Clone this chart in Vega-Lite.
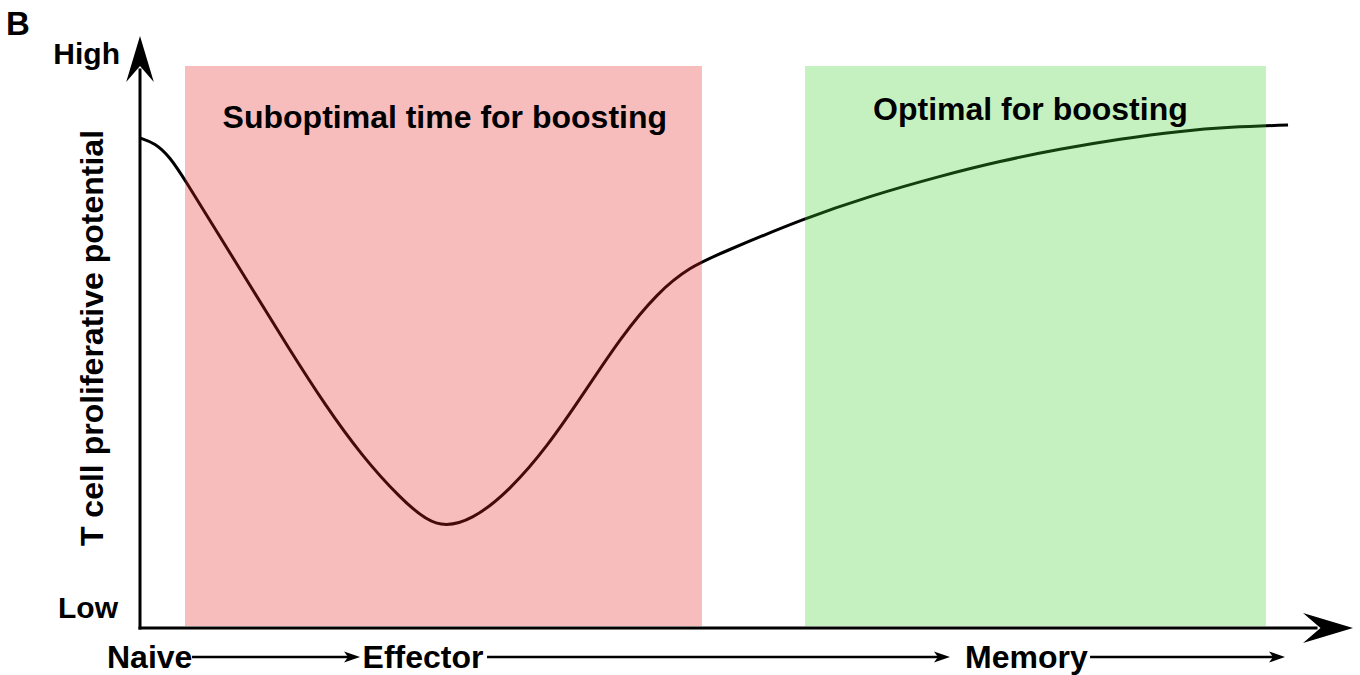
{
  "$schema": "https://vega.github.io/schema/vega-lite/v6.json",
  "width": 1200,
  "height": 600,
  "autosize": {"type": "none"},
  "padding": {"left": 140, "top": 28, "right": 20, "bottom": 47},
  "background": "white",
  "config": {"view": {"stroke": null}},
  "encoding": {
    "x": {"field": "x", "type": "quantitative", "axis": null, "scale": {"domain": [0, 100], "nice": false, "zero": false}},
    "y": {"field": "y", "type": "quantitative", "axis": null, "scale": {"domain": [0, 100], "nice": false, "zero": false}}
  },
  "layer": [
    {
      "data": {"values": [
        {"x": 0, "y": 81.67}, {"x": 1.25, "y": 80.83}, {"x": 2.5, "y": 78.5}, {"x": 3.75, "y": 74.67},
        {"x": 6.17, "y": 66.83}, {"x": 9.25, "y": 56.83}, {"x": 12.33, "y": 46.83}, {"x": 15.42, "y": 37.17},
        {"x": 18.5, "y": 28.67}, {"x": 21.58, "y": 21.83}, {"x": 24.67, "y": 16.33}, {"x": 27.75, "y": 18.0},
        {"x": 30.83, "y": 23}, {"x": 33.92, "y": 30.17}, {"x": 37, "y": 39.17}, {"x": 40.08, "y": 48.5},
        {"x": 43.17, "y": 56}, {"x": 45.83, "y": 60.17}, {"x": 48.42, "y": 62.5}, {"x": 55.42, "y": 68.33},
        {"x": 60.83, "y": 72}, {"x": 66.67, "y": 75.33}, {"x": 71.67, "y": 77.83}, {"x": 76.67, "y": 79.83},
        {"x": 81.67, "y": 81.5}, {"x": 86.67, "y": 82.83}, {"x": 90.83, "y": 83.5}, {"x": 95.67, "y": 83.83}
      ]},
      "mark": {"type": "line", "interpolate": "basis", "color": "black", "strokeWidth": 3, "clip": false}
    },
    {
      "data": {"values": [
        {"zone": "Suboptimal", "x": 3.75, "x2": 46.83, "y": 0.33, "y2": 93.67},
        {"zone": "Optimal", "x": 55.42, "x2": 93.83, "y": 0.33, "y2": 93.67}
      ]},
      "mark": {"type": "rect", "opacity": 0.3},
      "encoding": {
        "x2": {"field": "x2"},
        "y2": {"field": "y2"},
        "color": {"field": "zone", "type": "nominal", "legend": null, "scale": {"domain": ["Suboptimal", "Optimal"], "range": ["#e42626", "#3ed02d"]}}
      }
    },
    {
      "data": {"values": [
        {"x": 0, "x2": 0, "y": 0, "y2": 93},
        {"x": 0, "x2": 98, "y": 0, "y2": 0}
      ]},
      "mark": {"type": "rule", "color": "black", "strokeWidth": 3, "strokeCap": "square", "clip": false},
      "encoding": {"x2": {"field": "x2"}, "y2": {"field": "y2"}}
    },
    {
      "data": {"values": [{"x": 99, "y": 0}]},
      "mark": {"type": "point", "shape": "M1,0 L-1,-0.6 L-0.3,0 L-1,0.6 Z", "size": 2500, "filled": true, "color": "black", "opacity": 1, "angle": 0, "clip": false}
    },
    {
      "data": {"values": [{"x": 0, "y": 94.83}]},
      "mark": {"type": "point", "shape": "M1,0 L-1,-0.6 L-0.3,0 L-1,0.6 Z", "size": 2116, "filled": true, "color": "black", "opacity": 1, "angle": 270, "clip": false}
    },
    {
      "data": {"values": [
        {"x": 4.33, "x2": 17.67, "y": -4.83},
        {"x": 28.92, "x2": 66.83, "y": -4.83},
        {"x": 79.17, "x2": 94.75, "y": -4.83}
      ]},
      "mark": {"type": "rule", "color": "black", "strokeWidth": 2.5, "clip": false},
      "encoding": {"x2": {"field": "x2"}}
    },
    {
      "data": {"values": [
        {"x": 17.67, "y": -4.83},
        {"x": 66.83, "y": -4.83},
        {"x": 94.75, "y": -4.83}
      ]},
      "mark": {"type": "point", "shape": "M1,0 L-1,-0.7 L-0.5,0 L-1,0.7 Z", "size": 256, "filled": true, "color": "black", "opacity": 1, "clip": false}
    },
    {
      "data": {"values": [
        {"label": "Suboptimal time for boosting", "x": 25.4, "y": 83.33},
        {"label": "Optimal for boosting", "x": 74.2, "y": 84.67}
      ]},
      "mark": {"type": "text", "font": "Liberation Sans", "fontWeight": "bold", "fontSize": 32, "align": "center", "baseline": "alphabetic", "color": "black", "clip": false},
      "encoding": {"text": {"field": "label"}}
    },
    {
      "data": {"values": [
        {"label": "Naive", "x": -2.75, "y": -6.67},
        {"label": "Effector", "x": 18.55, "y": -6.67},
        {"label": "Memory", "x": 68.75, "y": -6.67}
      ]},
      "mark": {"type": "text", "font": "Liberation Sans", "fontWeight": "bold", "fontSize": 32, "align": "left", "baseline": "alphabetic", "color": "black", "clip": false},
      "encoding": {"text": {"field": "label"}}
    },
    {
      "data": {"values": [
        {"label": "High", "x": -1.67, "y": 94},
        {"label": "Low", "x": -1.83, "y": 1.67}
      ]},
      "mark": {"type": "text", "font": "Liberation Sans", "fontWeight": "bold", "fontSize": 30, "align": "right", "baseline": "alphabetic", "color": "black", "clip": false},
      "encoding": {"text": {"field": "label"}}
    },
    {
      "data": {"values": [{"label": "B", "x": -11.17, "y": 98.83}]},
      "mark": {"type": "text", "font": "Liberation Sans", "fontWeight": "bold", "fontSize": 33, "align": "left", "baseline": "alphabetic", "color": "black", "clip": false},
      "encoding": {"text": {"field": "label"}}
    },
    {
      "data": {"values": [{"label": "T cell proliferative potential", "x": -3.92, "y": 48.33}]},
      "mark": {"type": "text", "font": "Liberation Sans", "fontWeight": "bold", "fontSize": 32, "align": "center", "baseline": "middle", "angle": 270, "color": "black", "clip": false},
      "encoding": {"text": {"field": "label"}}
    }
  ]
}
